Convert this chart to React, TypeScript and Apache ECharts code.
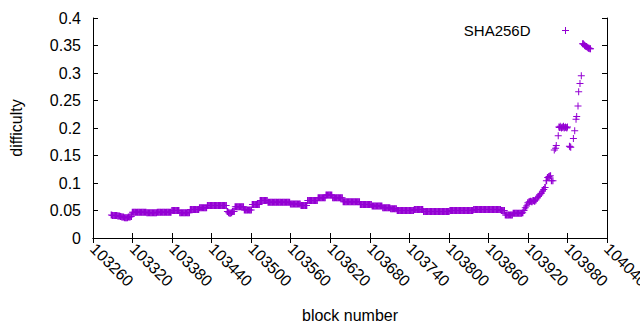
import React, { useEffect, useRef } from "react";
import * as echarts from "echarts";

// ---- data ----
const seriesName = "SHA256D";
const xAxisTitle = "block number";
const yAxisTitle = "difficulty";

const xMin = 103260;
const xMax = 104040;
const xInterval = 60;
const yMin = 0;
const yMax = 0.4;
const yInterval = 0.05;

// dense part: one reading every 2 blocks starting at block 103288
const denseStartBlock = 103288;
const denseStepBlocks = 2;
const denseDifficulty = [
  0.042, 0.041, 0.041, 0.041, 0.041, 0.040, 0.040,
  0.039, 0.038, 0.038, 0.037, 0.037, 0.037, 0.038, 0.038, 0.039,
  0.047, 0.047, 0.047, 0.047, 0.047, 0.047, 0.047, 0.047, 0.047, 0.047, 0.047,
  0.046, 0.046, 0.046, 0.046, 0.046, 0.046, 0.046, 0.046,
  0.047, 0.047, 0.047, 0.047, 0.047, 0.047, 0.047, 0.047, 0.047, 0.047, 0.047,
  0.050, 0.050, 0.050, 0.050, 0.050, 0.050,
  0.046, 0.046, 0.046, 0.046, 0.046, 0.046, 0.046, 0.046,
  0.052, 0.052, 0.052, 0.052, 0.052, 0.052, 0.052,
  0.055, 0.055, 0.055, 0.055, 0.055, 0.055,
  0.059, 0.059, 0.059, 0.059, 0.059, 0.059, 0.059, 0.059, 0.059, 0.059, 0.059, 0.059, 0.059, 0.059, 0.059,
  0.048, 0.046, 0.045, 0.046, 0.048, 0.048,
  0.057, 0.057, 0.057, 0.057, 0.057, 0.057, 0.057,
  0.051, 0.051, 0.051, 0.051, 0.051, 0.051,
  0.061, 0.061, 0.061, 0.061, 0.061, 0.061,
  0.068, 0.068, 0.068, 0.068, 0.068, 0.068,
  0.065, 0.065, 0.065, 0.065, 0.065, 0.065, 0.065, 0.065, 0.065, 0.065, 0.065, 0.065, 0.065, 0.065, 0.065, 0.065, 0.065,
  0.062, 0.062, 0.062, 0.062, 0.062, 0.062, 0.062, 0.062,
  0.059, 0.059, 0.059, 0.059, 0.059,
  0.068, 0.068, 0.068, 0.068, 0.068, 0.068, 0.068, 0.068,
  0.073, 0.073, 0.073, 0.073, 0.073, 0.073,
  0.078, 0.078, 0.078, 0.078, 0.078,
  0.073, 0.073, 0.073, 0.073, 0.073, 0.073, 0.073, 0.073,
  0.066, 0.066, 0.066, 0.066, 0.066, 0.066, 0.066, 0.066, 0.066, 0.066, 0.066, 0.066, 0.066,
  0.061, 0.061, 0.061, 0.061, 0.061, 0.061, 0.061, 0.061, 0.061,
  0.058, 0.058, 0.058, 0.058, 0.058, 0.058, 0.058, 0.058,
  0.055, 0.055, 0.055, 0.055, 0.055, 0.055,
  0.053, 0.053, 0.053, 0.053, 0.053,
  0.050, 0.050, 0.050, 0.050, 0.050, 0.050, 0.050, 0.050, 0.050, 0.050, 0.050, 0.050, 0.050,
  0.052, 0.052, 0.052, 0.052, 0.052, 0.052, 0.052,
  0.048, 0.048, 0.048, 0.048, 0.048, 0.048, 0.048, 0.048, 0.048, 0.048,
  0.048, 0.048, 0.048, 0.048, 0.048, 0.048, 0.048, 0.048, 0.048, 0.048,
  0.050, 0.050, 0.050, 0.050, 0.050, 0.050, 0.050, 0.050, 0.050,
  0.050, 0.050, 0.050, 0.050, 0.050, 0.050, 0.050, 0.050, 0.050,
  0.052, 0.052, 0.052, 0.052, 0.052, 0.052, 0.052, 0.052, 0.052, 0.052, 0.052,
  0.052, 0.052, 0.052, 0.052, 0.052, 0.052, 0.052, 0.052, 0.052, 0.052,
  0.050, 0.050, 0.050,
  0.042, 0.042, 0.042, 0.042, 0.042, 0.042,
  0.045, 0.045, 0.045, 0.045, 0.045, 0.045, 0.045,
  0.046, 0.050, 0.055, 0.058, 0.064, 0.066, 0.067, 0.066, 0.068, 0.067, 0.069, 0.073,
  0.076, 0.078, 0.081, 0.085, 0.088, 0.092, 0.104, 0.110, 0.112, 0.113, 0.104,
];

// sparse tail: individual blocks
const tailBlocks = [
  103958, 103960, 103962, 103963, 103966,
  103967, 103968, 103969, 103970, 103971, 103972, 103973, 103974, 103975, 103976, 103977, 103978, 103979, 103980,
  103983, 103984, 103985, 103989, 103991, 103993, 103994, 103996, 103997, 103999, 104001,
  104003, 104004, 104005, 104006, 104007, 104008, 104009, 104010, 104011, 104012, 104013, 104014, 104015,
];
const tailDifficulty = [
  0.104, 0.160, 0.163, 0.168, 0.186,
  0.202, 0.201, 0.203, 0.201, 0.200, 0.202, 0.201, 0.203, 0.200, 0.201, 0.202, 0.201, 0.200, 0.202,
  0.167, 0.166, 0.165, 0.181, 0.195, 0.216, 0.221, 0.240, 0.266, 0.281, 0.295,
  0.353, 0.353, 0.352, 0.350, 0.349, 0.348, 0.348, 0.347, 0.346, 0.345, 0.345, 0.344, 0.344,
];

// ---- styles ----
const PURPLE = "#9400d3";
const FONT = "Liberation Sans";
const PLUS_THIN = "path://M3,0L4,0L4,3L7,3L7,4L4,4L4,7L3,7L3,4L0,4L0,3L3,3Z";
const PLUS_DENSE =
  "path://M2.7,0L4.3,0L4.3,3L7,3L7,4L4.3,4L4.3,7L2.7,7L2.7,4L0,4L0,3L2.7,3Z";

export default function App() {
  const ref = useRef<HTMLDivElement>(null);

  useEffect(() => {
    if (!ref.current) return;
    const chart = echarts.init(ref.current, undefined, { renderer: "svg" });

    const denseData: [number, number][] = denseDifficulty.map((v, i) => [
      denseStartBlock + i * denseStepBlocks,
      v,
    ]);
    const tailData: [number, number][] = tailBlocks.map((b, i) => [b, tailDifficulty[i]]);

    const axisLine = { show: true, lineStyle: { color: "#000", width: 1 } };
    const axisTick = { show: true, inside: true, length: 5, lineStyle: { color: "#000", width: 1 } };

    chart.setOption({
      animation: false,
      textStyle: { fontFamily: FONT },
      grid: {
        left: 93,
        right: 33,
        top: 18,
        bottom: 92,
        containLabel: false,
        outerBoundsMode: "none",
      },
      xAxis: [
        {
          type: "value",
          position: "bottom",
          min: xMin,
          max: xMax,
          interval: xInterval,
          axisLine,
          axisTick,
          splitLine: { show: false },
          axisLabel: {
            rotate: -45,
            margin: 8,
            fontSize: 16,
            color: "#000",
            fontFamily: FONT,
            hideOverlap: false,
            formatter: (v: number) => String(v),
          },
        },
        {
          type: "value",
          position: "top",
          min: xMin,
          max: xMax,
          interval: xInterval,
          axisLine,
          axisTick,
          splitLine: { show: false },
          axisLabel: { show: false },
        },
      ],
      yAxis: [
        {
          type: "value",
          position: "left",
          min: yMin,
          max: yMax,
          interval: yInterval,
          axisLine,
          axisTick,
          splitLine: { show: false },
          axisLabel: { margin: 12, fontSize: 16, color: "#000", fontFamily: FONT },
        },
        {
          type: "value",
          position: "right",
          min: yMin,
          max: yMax,
          interval: yInterval,
          axisLine,
          axisTick,
          splitLine: { show: false },
          axisLabel: { show: false },
        },
      ],
      legend: {
        data: [seriesName],
        right: 71,
        top: 23,
        padding: 0,
        align: "right",
        icon: PLUS_THIN,
        itemWidth: 60,
        itemHeight: 7,
        selectedMode: false,
        textStyle: { fontSize: 15, color: "#000", fontFamily: FONT },
      },
      series: [
        {
          name: seriesName,
          type: "scatter",
          xAxisIndex: 0,
          yAxisIndex: 0,
          symbol: PLUS_DENSE,
          symbolSize: 7,
          itemStyle: { color: PURPLE, opacity: 1 },
          data: denseData,
        },
        {
          name: seriesName,
          type: "scatter",
          xAxisIndex: 0,
          yAxisIndex: 0,
          symbol: PLUS_THIN,
          symbolSize: 7,
          itemStyle: { color: PURPLE, opacity: 1 },
          data: tailData,
        },
      ],
      graphic: [
        {
          type: "text",
          x: 16,
          y: 128,
          rotation: Math.PI / 2,
          style: {
            text: yAxisTitle,
            fontSize: 16,
            fontFamily: FONT,
            fill: "#000",
            textAlign: "center",
            textVerticalAlign: "middle",
          },
        },
        {
          type: "text",
          x: 350,
          y: 315,
          style: {
            text: xAxisTitle,
            fontSize: 16,
            fontFamily: FONT,
            fill: "#000",
            textAlign: "center",
            textVerticalAlign: "middle",
          },
        },
      ],
    });

    return () => chart.dispose();
  }, []);

  return (
    <div
      ref={ref}
      style={{ position: "fixed", left: 0, top: 0, width: 640, height: 330, background: "#fff" }}
    />
  );
}
